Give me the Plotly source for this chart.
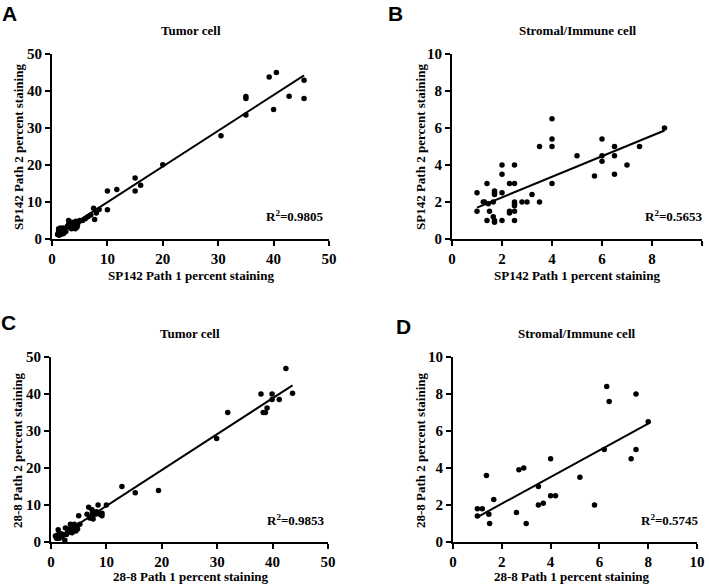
import numpy as np
import plotly.graph_objects as go

# ---------------- data ----------------
# Panel A: SP142 tumor cell
a_x = [1, 1.1, 1.2, 1.2, 1.3, 1.4, 1.5, 1.5, 1.6, 1.7, 1.8, 1.9, 2, 2, 2.1, 2.2, 2.5, 2.8, 3, 3,
       3.2, 3.4, 3.5, 3.6, 3.8, 4, 4, 4.2, 4.3, 4.5, 4.6, 4.8, 5, 5.5, 6, 6.5, 7, 7.5, 7.7, 8,
       8.5, 10, 10, 11.7, 15, 15, 16, 20, 30.5, 35, 35, 35, 39.2, 40.5, 40, 42.8, 45.5, 45.5]
a_y = [1.2, 1.5, 2, 2.8, 1, 2.5, 1.8, 3, 2.2, 1.3, 2.6, 1.8, 2.2, 3, 1.5, 2.5, 2, 3.5, 5, 4,
       3.2, 3.8, 2.8, 4.5, 3, 3.5, 4.2, 2.8, 4.8, 3.2, 3.8, 4.6, 5, 5, 5.5, 6, 6.5, 8.3, 5.3, 7,
       8, 13, 7.9, 13.4, 16.5, 13, 14.5, 20.1, 27.9, 38.5, 38, 33.5, 43.8, 45, 35, 38.6, 42.9, 38]

# Panel B: SP142 stromal/immune cell
b_x = [1, 1, 1.4, 1.25, 1.3, 1.45, 1.4, 1.5, 1.65, 1.65, 1.7, 1.7, 1.7, 1.7, 1.7, 2, 2, 2, 2,
       2.3, 2.3, 2.3, 2.5, 2.5, 2.5, 2.5, 2.5, 2.5, 2.5, 2.8, 3, 3.2, 3.5, 3.5, 4, 4, 4, 4,
       5, 5.7, 6, 6, 6, 6.5, 6.5, 6.5, 7, 7.5, 8.5]
b_y = [2.5, 1.5, 3, 2, 2, 1.9, 1, 1.5, 2, 1.2, 1, 0.9, 2.5, 2.4, 2.6, 4, 3.5, 2.5, 1,
       3, 1.5, 1.4, 4, 3, 2, 1.9, 1.8, 1.5, 1, 2, 2, 2.4, 5, 2, 6.5, 5.4, 5, 3,
       4.5, 3.4, 5.4, 4.5, 4.2, 5, 4.5, 3.5, 4, 5, 6]

# Panel C: 28-8 tumor cell
c_x = [0.8, 1, 1.1, 1.2, 1.3, 1.4, 1.5, 1.6, 1.8, 2, 2.2, 2.5, 2.6, 2.8, 3, 3.2, 3.4, 3.5, 3.6,
       3.8, 4, 4, 4.2, 4.3, 4.5, 4.6, 4.8, 5, 5.2, 6.5, 6.8, 7, 7.3, 7.4, 7.5, 7.6, 8, 8.2, 8.5,
       8.8, 9.2, 9.2, 10, 12.8, 15.2, 19.4, 29.9, 31.9, 37.9, 38.3, 38.7, 39, 39.9, 39.9, 41.2,
       42.4, 43.6]
c_y = [1.6, 1, 1.8, 1.2, 3.3, 2, 1, 1.6, 2.2, 1.5, 2, 0.5, 3.8, 2, 2.6, 3.5, 2.8, 4.8, 3.2,
       2.5, 4, 3, 4.8, 3.6, 3, 4.2, 3.5, 7.1, 4.8, 7.5, 9.4, 6.5, 6.9, 8.7, 8, 6.2, 7.5, 8.2, 10,
       7.5, 7.8, 7.1, 10, 15, 13.3, 13.9, 28, 35, 40, 35, 35, 36.2, 40, 38.5, 38.5,
       46.9, 40.2]

# Panel D: 28-8 stromal/immune cell
d_x = [1, 1, 1.2, 1.37, 1.47, 1.5, 1.67, 2.6, 2.7, 2.9, 3, 3.5, 3.5, 3.7, 4, 4, 4.2, 5.2, 5.8,
       6.2, 6.3, 6.4, 7.3, 7.5, 7.5, 8]
d_y = [1.8, 1.4, 1.8, 3.6, 1.5, 1, 2.3, 1.6, 3.9, 4, 1, 3, 2, 2.1, 4.5, 2.5, 2.5, 3.5, 2,
       5, 8.4, 7.6, 4.5, 8, 5, 6.5]

panels = [
    dict(x=a_x, y=a_y, rng=50, dtick=10, r2="0.9805", title="Tumor cell",
         xt="SP142 Path 1 percent staining", yt="SP142 Path 2 percent staining", letter="A"),
    dict(x=b_x, y=b_y, rng=10, dtick=2, r2="0.5653", title="Stromal/Immune cell",
         xt="SP142 Path 1 percent staining", yt="SP142 Path 2 percent staining", letter="B"),
    dict(x=c_x, y=c_y, rng=50, dtick=10, r2="0.9853", title="Tumor cell",
         xt="28-8 Path 1 percent staining", yt="28-8 Path 2 percent staining", letter="C"),
    dict(x=d_x, y=d_y, rng=10, dtick=2, r2="0.5745", title="Stromal/Immune cell",
         xt="28-8 Path 1 percent staining", yt="28-8 Path 2 percent staining", letter="D"),
]

# ---------------- layout geometry (pixels) ----------------
W, H = 709, 585
boxes = [  # x0, x1, ytop, ybottom
    (52, 329, 54, 239),
    (452, 702, 54, 239),
    (51, 328, 357, 542),
    (453, 697, 357, 542),
]
title_pos = [(191, 30), (577, 30), (190, 333), (576, 333)]
xt_pos = [(191, 275), (577, 275), (191, 576), (572, 576)]
yt_pos = [(18, 147), (420, 147), (17, 450), (420, 450)]
r2_pos = [(295, 216), (674, 216), (296, 520), (670, 520)]
letter_pos = [(9, 13), (395, 13), (8, 322), (403, 326)]

def px(x):
    return x / W

def py(y):
    return 1 - y / H

fig = go.Figure()
serif = "Liberation Serif"
annotations = []

for i, p in enumerate(panels):
    n = i + 1
    xa = "x" if n == 1 else f"x{n}"
    ya = "y" if n == 1 else f"y{n}"
    fig.add_trace(go.Scatter(x=p["x"], y=p["y"], mode="markers",
                             marker=dict(color="black", size=5.5),
                             xaxis=xa, yaxis=ya, showlegend=False, cliponaxis=False))
    xs = np.array(p["x"], dtype=float)
    ys = np.array(p["y"], dtype=float)
    k, b = np.polyfit(xs, ys, 1)
    lx = np.array([xs.min(), xs.max()])
    fig.add_trace(go.Scatter(x=lx, y=k * lx + b, mode="lines",
                             line=dict(color="black", width=2),
                             xaxis=xa, yaxis=ya, showlegend=False))
    x0, x1, yt, yb = boxes[i]
    axis_common = dict(showline=True, linecolor="black", linewidth=2,
                       ticks="outside", ticklen=5, tickwidth=2, tickcolor="black",
                       showgrid=False, zeroline=False, automargin=False,
                       range=[0, p["rng"]], dtick=p["dtick"], tick0=0,
                       tickfont=dict(family=serif, size=15, color="black", weight="bold"))
    fig.update_layout(**{
        ("xaxis" if n == 1 else f"xaxis{n}"): dict(domain=[px(x0), px(x1)], anchor=ya, **axis_common),
        ("yaxis" if n == 1 else f"yaxis{n}"): dict(domain=[py(yb), py(yt)], anchor=xa, **axis_common),
    })
    f = dict(family=serif, size=13, color="black", weight="bold")
    annotations += [
        dict(text=p["title"], x=px(title_pos[i][0]), y=py(title_pos[i][1]), font=f),
        dict(text=p["xt"], x=px(xt_pos[i][0]), y=py(xt_pos[i][1]), font=f),
        dict(text=p["yt"], x=px(yt_pos[i][0]), y=py(yt_pos[i][1]), font=f, textangle=-90),
        dict(text="R<sup>2</sup>=" + p["r2"], x=px(r2_pos[i][0]), y=py(r2_pos[i][1]), font=f),
        dict(text=p["letter"], x=px(letter_pos[i][0]), y=py(letter_pos[i][1]),
             font=dict(family="Liberation Sans", size=21, color="black", weight="bold")),
    ]

for a in annotations:
    a.update(xref="paper", yref="paper", showarrow=False, xanchor="center", yanchor="middle")

fig.update_layout(width=W, height=H, margin=dict(l=0, r=0, t=0, b=0, autoexpand=False),
                  paper_bgcolor="white", plot_bgcolor="white",
                  annotations=annotations)
fig.write_html("out.html", config={"displayModeBar": False},
               post_script="document.body.style.margin='0';document.body.style.overflow='hidden';")
